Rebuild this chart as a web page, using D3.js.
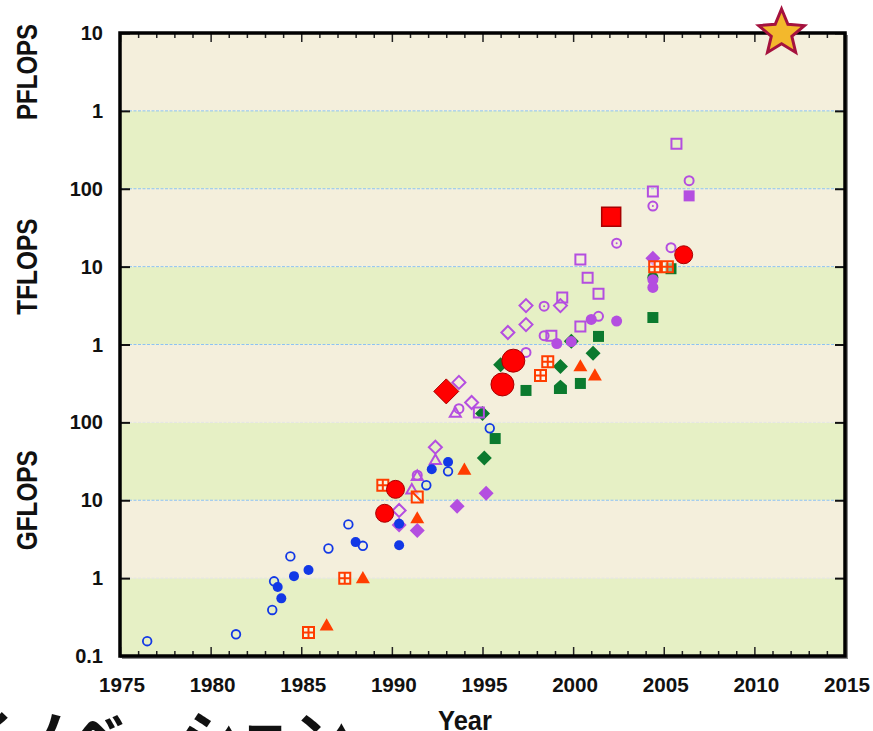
<!DOCTYPE html>
<html>
<head>
<meta charset="utf-8">
<script src="https://cdn.jsdelivr.net/npm/d3@7"></script>
<style>
  body { margin: 0; background: #fff; overflow: hidden; }
  svg { display: block; }
  text { font-family: "Liberation Sans", Arial, sans-serif; font-weight: bold; fill: #111; }
</style>
</head>
<body>
<svg id="chart" width="873" height="731"></svg>
<script>
// values are [year, GFLOPS]
var blueOpen = [[1976.5,0.155],[1981.4,0.19],[1983.4,0.39],[1983.5,0.91],[1984.4,1.9],[1986.5,2.4],[1987.6,4.9],[1988.4,2.6],[1991.9,15.6],[1993.1,23.5],[1995.4,84]];
var blueFilled = [[1983.7,0.77],[1983.9,0.55],[1984.6,1.06],[1985.4,1.27],[1988.0,2.9],[1990.4,2.65],[1990.4,5.0],[1992.2,25],[1993.1,31]];
var purpleOpenDiamond = [[1990.4,7.4],[1992.4,48],[1993.7,326],[1994.4,180],[1996.4,1425],[1997.4,1800],[1997.4,3160],[1999.3,3160]];
var purpleFilledDiamond = [[1990.4,4.8],[1991.4,4.1],[1993.6,8.4],[1995.2,12.3],[2004.4,12800]];
var purpleOpenTriangle = [[1991.1,13.4],[1991.4,20],[1992.4,32],[1993.5,130]];
var purpleOpenCircle = [[1991.4,21],[1993.7,150],[1997.4,790],[1998.4,1300],[2001.4,2300],[2005.4,17500],[2006.4,127000]];
var purpleDotCircle = [[1998.4,3100],[2002.4,20000],[2004.4,60000]];
var purpleFilledCircle = [[1999.1,1030],[1999.9,1090],[2001.0,2100],[2002.4,2000],[2004.4,6800],[2004.4,5400]];
var purpleOpenSquare = [[1994.8,134],[1998.8,1300],[1999.4,4000],[2000.4,12300],[2000.8,7200],[2001.4,4500],[2000.4,1700],[2004.4,92000],[2005.7,377000]];
var purpleFilledSquare = [[2006.4,81000]];
var greenSquare = [[1995.7,62],[1997.4,257],[2000.4,316],[2001.4,1270],[2004.4,2220],[2005.4,9400]];
var greenDiamond = [[1995.1,35],[1995.0,130],[1996.0,550],[1999.3,520],[1999.9,1100],[2001.1,770]];
var greenHouse = [[1999.3,280]];
var greenCircle = [[2004.4,7300]];
var orangeTriangle = [[1986.4,0.24],[1988.4,0.97],[1991.4,5.7],[1994.0,24],[2000.4,510],[2001.2,390]];
var orangeGrid = [[1985.4,0.2],[1987.4,1.0],[1989.5,15.6],[1998.6,600],[1998.2,400],[2004.5,10000],[2005.2,10000]];
var orangeSlash = [[1991.4,11]];
var redCircleSmall = [[1989.6,6.8],[1990.2,13.8],[2006.1,14200]];
var redCircleBig = [[1996.1,307],[1996.7,620]];
var redDiamond = [[1993.0,250]];
var redSquare = [[2002.1,43700]];
var star = [[2011.5,1e7]];

var yearTicks = [1975,1980,1985,1990,1995,2000,2005,2010,2015];
var decadeTicks = [0.1,1,10,100,1e3,1e4,1e5,1e6,1e7];
var decadeLabels = ["0.1","1","10","100","1","10","100","1","10"];
var unitLabels = [["PFLOPS",1e6,1e7],["TFLOPS",1e3,1e5],["GFLOPS",1,100]];

(function () {
var svg = d3.select('#chart');
var pL = 120, pR = 845, pT = 33, pB = 656;
var x = d3.scaleLinear().domain([1975, 2015]).range([pL, pR]);
var y = d3.scaleLog().domain([0.1, 1e7]).range([pB, pT]);

// bands
var bands = d3.range(decadeTicks.length - 1);
svg.selectAll('rect.band').data(bands).enter().append('rect')
  .attr('x', pL).attr('width', pR - pL)
  .attr('y', function (i) { return y(decadeTicks[i + 1]); })
  .attr('height', function (i) { return y(decadeTicks[i]) - y(decadeTicks[i + 1]); })
  .attr('fill', function (i) { return i % 2 == 0 ? '#e6f0c5' : '#f4efdc'; });

// dotted grid lines
svg.selectAll('line.grid').data(decadeTicks.slice(1, -1)).enter().append('line')
  .attr('x1', pL).attr('x2', pR)
  .attr('y1', function (d) { return y(d); }).attr('y2', function (d) { return y(d); })
  .attr('stroke', function (d) { return (d == 1 || d == 100) ? '#e4e4e4' : '#8ec2f2'; })
  .attr('stroke-width', 1)
  .attr('stroke-dasharray', '3,1.5');

// axes, ticks inward
var xMinor = d3.range(1975, 2016);
var gxb = svg.append('g').attr('transform', 'translate(0,' + pB + ')')
  .call(d3.axisTop(x).tickValues(xMinor).tickFormat('').tickSize(5).tickSizeOuter(0));
var gxt = svg.append('g').attr('transform', 'translate(0,' + pT + ')')
  .call(d3.axisBottom(x).tickValues(xMinor).tickFormat('').tickSize(5).tickSizeOuter(0));
[gxb, gxt].forEach(function (g) {
  g.select('.domain').remove();
  g.selectAll('.tick line').attr('stroke', '#222').attr('stroke-width', 1.5)
    .attr('y2', function (d) { var s = (d % 5 == 0) ? 9 : 5; return g === gxb ? -s : s; });
});
var gyl = svg.append('g').attr('transform', 'translate(' + pL + ',0)')
  .call(d3.axisRight(y).tickValues(decadeTicks).tickFormat('').tickSize(10).tickSizeOuter(0));
var gyr = svg.append('g').attr('transform', 'translate(' + pR + ',0)')
  .call(d3.axisLeft(y).tickValues(decadeTicks).tickFormat('').tickSize(10).tickSizeOuter(0));
[gyl, gyr].forEach(function (g) {
  g.select('.domain').remove();
  g.selectAll('.tick line').attr('stroke', '#111').attr('stroke-width', 2);
});

// frame with a light shadow
svg.append('path')
  .attr('d', 'M' + (pR + 2) + ',' + (pT + 2) + 'V' + (pB + 2) + 'H' + (pL + 2))
  .attr('fill', 'none').attr('stroke', '#888').attr('stroke-width', 2);
svg.append('rect').attr('x', pL).attr('y', pT).attr('width', pR - pL).attr('height', pB - pT)
  .attr('fill', 'none').attr('stroke', '#000').attr('stroke-width', 3.5);

// tick labels
svg.selectAll('text.xl').data(yearTicks).enter().append('text')
  .attr('x', function (d) { return x(d) + 2; }).attr('y', 692)
  .attr('text-anchor', 'middle').attr('font-size', '20px')
  .attr('textLength', 46).attr('lengthAdjust', 'spacingAndGlyphs')
  .text(function (d) { return d; });
svg.selectAll('text.yl').data(decadeTicks).enter().append('text')
  .attr('x', 103).attr('y', function (d) { return y(d) + 7; })
  .attr('text-anchor', 'end').attr('font-size', '20px')
  .text(function (d, i) { return decadeLabels[i]; });

unitLabels.forEach(function (u) {
  var cy = (y(u[1]) + y(u[2])) / 2;
  svg.append('text')
    .attr('transform', 'translate(37,' + cy + ') rotate(-90)')
    .attr('text-anchor', 'middle').attr('font-size', '30px')
    .attr('textLength', u[0] == 'GFLOPS' ? 100 : 96).attr('lengthAdjust', 'spacingAndGlyphs')
    .text(u[0]);
});

svg.append('text').attr('x', 465).attr('y', 730).attr('text-anchor', 'middle')
  .attr('font-size', '28px').attr('textLength', 54).attr('lengthAdjust', 'spacingAndGlyphs')
  .text('Year');

svg.append('text').attr('x', -42).attr('y', 757)
  .style('font-family', '"Noto Sans CJK JP", sans-serif').attr('font-weight', 'bold')
  .attr('font-size', '56px').text('イノベーション');

// markers
function shapePath(type, s) {
  if (type == 'diamond') return 'M0,' + (-s) + 'L' + s + ',0L0,' + s + 'L' + (-s) + ',0Z';
  if (type == 'square') return 'M' + (-s) + ',' + (-s) + 'H' + s + 'V' + s + 'H' + (-s) + 'Z';
  if (type == 'triangle') { var h = s * 1.732; return 'M0,' + (-h * 2 / 3) + 'L' + s + ',' + (h / 3) + 'L' + (-s) + ',' + (h / 3) + 'Z'; }
  if (type == 'house') return 'M0,' + (-s * 1.2) + 'L' + s + ',' + (-s * 0.3) + 'V' + s + 'H' + (-s) + 'V' + (-s * 0.3) + 'Z';
  if (type == 'grid') return 'M' + (-s) + ',' + (-s) + 'H' + s + 'V' + s + 'H' + (-s) + 'Z M0,' + (-s) + 'V' + s + 'M' + (-s) + ',0H' + s;
  if (type == 'slash') return 'M' + (-s) + ',' + (-s) + 'H' + s + 'V' + s + 'H' + (-s) + 'Z M' + (-s) + ',' + (-s) + 'L' + s + ',' + s;
  if (type == 'star') {
    var pts = [];
    for (var i = 0; i < 10; i++) {
      var r = i % 2 == 0 ? s : s * 0.45, a = Math.PI / 5 * i - Math.PI / 2;
      pts.push([r * Math.cos(a), r * Math.sin(a)]);
    }
    return 'M' + pts.join('L') + 'Z';
  }
  return d3.arc().innerRadius(0).outerRadius(s).startAngle(0).endAngle(2 * Math.PI)();
}

function draw(data, type, s, fill, stroke, sw) {
  svg.append('g').selectAll('path').data(data).enter().append('path')
    .attr('transform', function (d) { return 'translate(' + x(d[0]) + ',' + y(d[1]) + ')'; })
    .attr('d', shapePath(type, s))
    .attr('fill', fill).attr('stroke', stroke).attr('stroke-width', sw);
}

var blue = '#1238e6', purple = '#b44ee0', green = '#0b7a2e', orange = '#ff3d00', red = '#ff0000';

draw(greenCircle, 'circle', 5.5, green, 'none', 0);
draw(greenSquare, 'square', 5.5, green, 'none', 0);
draw(greenDiamond, 'diamond', 7.5, green, 'none', 0);
draw(greenHouse, 'house', 6.5, green, 'none', 0);
draw(purpleFilledDiamond, 'diamond', 7.5, purple, 'none', 0);
draw(purpleFilledCircle, 'circle', 5.5, purple, 'none', 0);
draw(purpleFilledSquare, 'square', 5.5, purple, 'none', 0);
draw(purpleOpenSquare, 'square', 5, 'none', purple, 2);
draw(purpleOpenDiamond, 'diamond', 6.5, 'none', purple, 2);
draw(purpleOpenTriangle, 'triangle', 5.5, 'none', purple, 2);
draw(purpleOpenCircle, 'circle', 4.5, 'none', purple, 2);
draw(purpleDotCircle, 'circle', 4.5, 'none', purple, 2);
draw(purpleDotCircle, 'circle', 1, purple, 'none', 0);
draw(blueFilled, 'circle', 5, blue, 'none', 0);
draw(blueOpen, 'circle', 4.3, 'none', blue, 1.8);
draw(orangeTriangle, 'triangle', 7, orange, 'none', 0);
draw(orangeGrid, 'grid', 5.5, 'rgba(255,255,255,0.5)', orange, 2);
draw(orangeSlash, 'slash', 5.5, 'rgba(255,255,255,0.5)', orange, 2);
draw(redCircleSmall, 'circle', 9, red, '#a80000', 1);
draw(redCircleBig, 'circle', 11.5, red, '#a80000', 1);
draw(redDiamond, 'diamond', 12.5, red, '#a80000', 1);
draw(redSquare, 'square', 9.5, red, '#a80000', 1.5);
draw(star, 'star', 24, '#f3b82c', '#a5123e', 3);
})();
</script>
</body>
</html>
